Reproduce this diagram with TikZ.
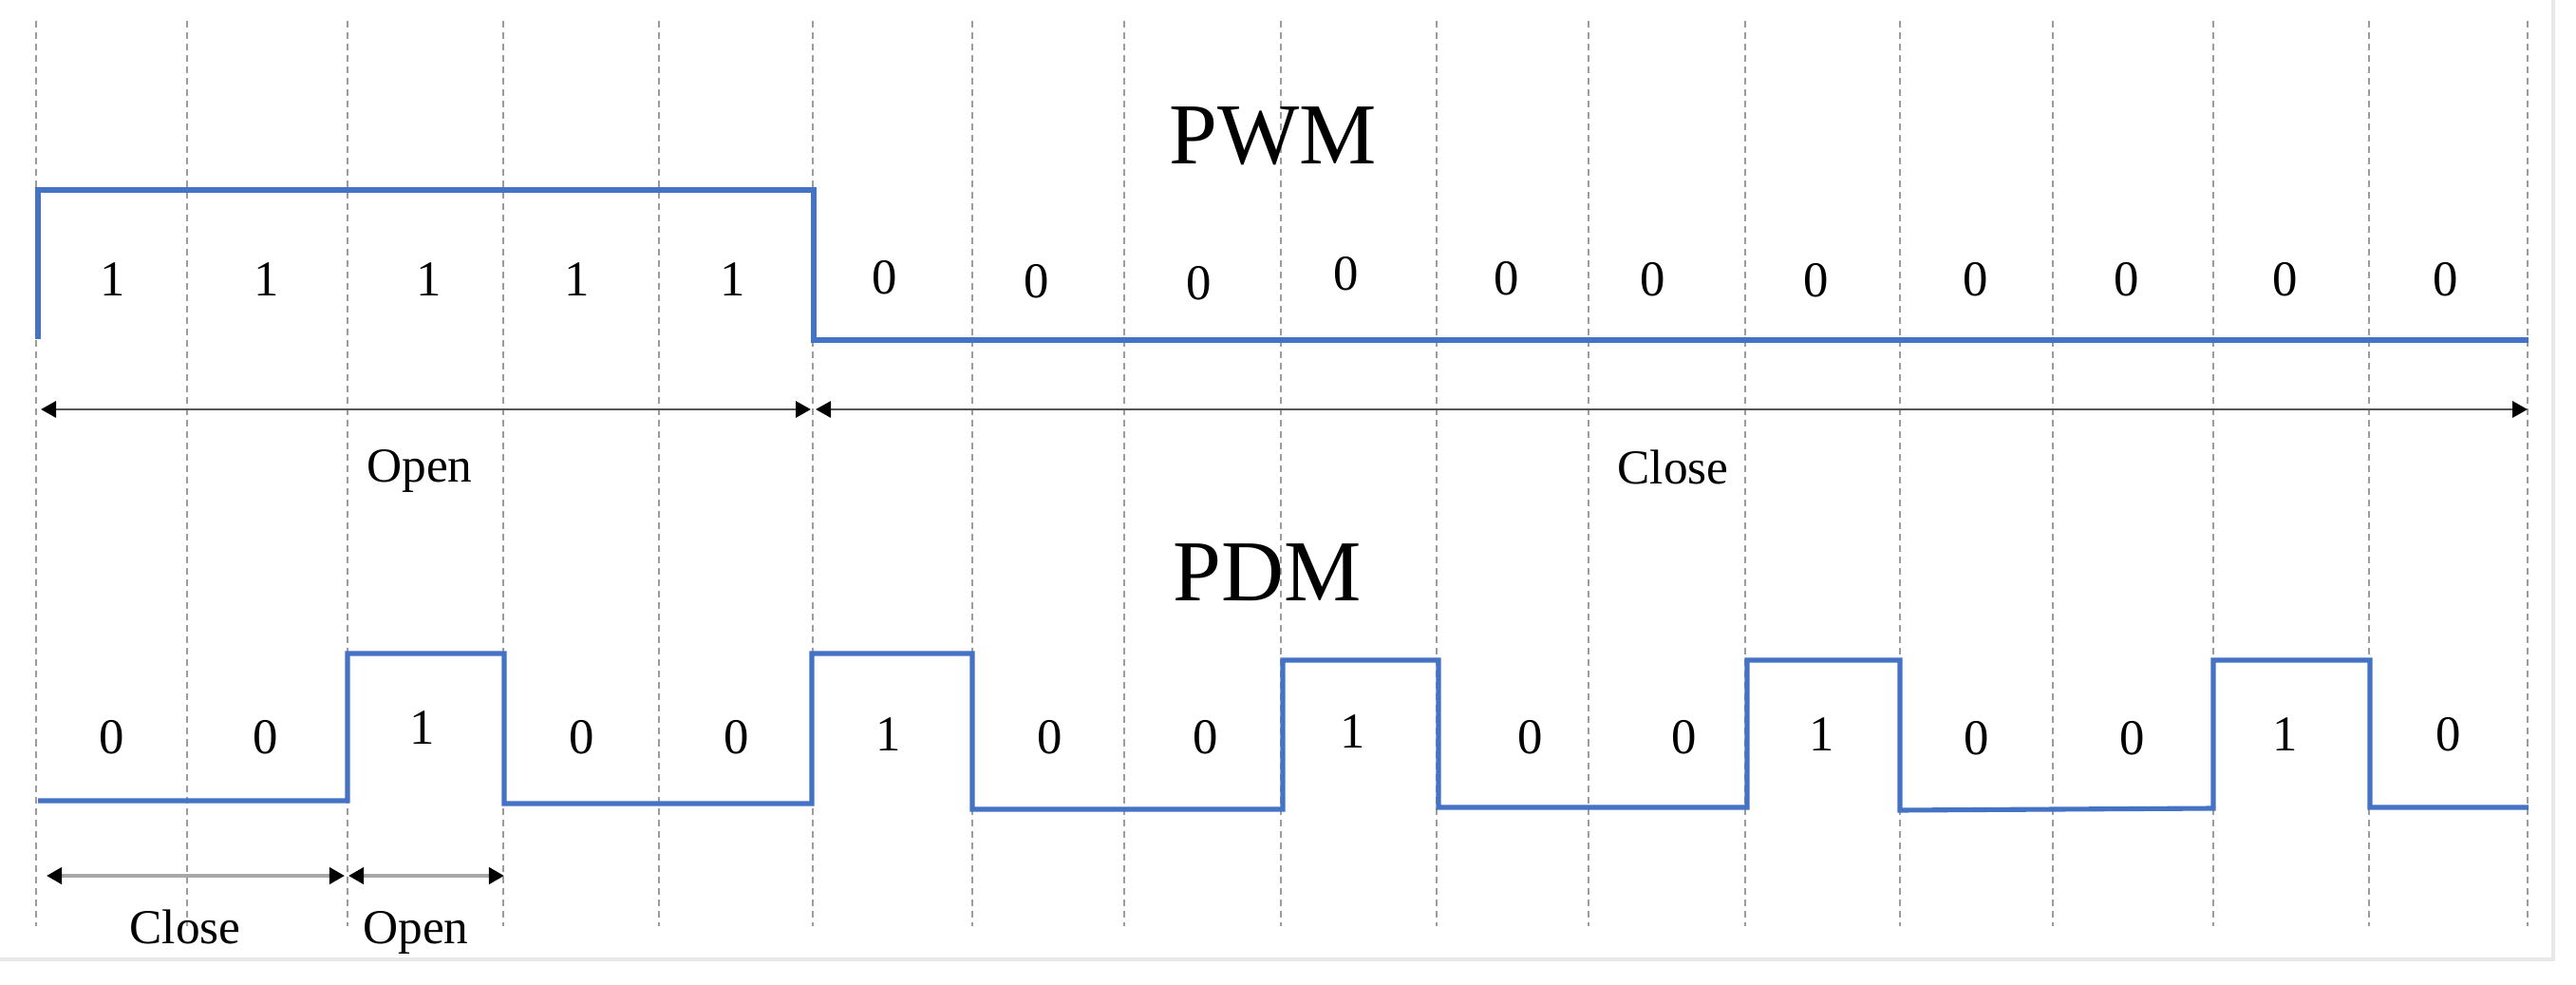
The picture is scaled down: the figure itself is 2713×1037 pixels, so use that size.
\documentclass[tikz,border=0pt]{standalone}
\usepackage{fontspec}
\setmainfont{Liberation Serif}
\usetikzlibrary{arrows.meta}
\definecolor{wave}{HTML}{4472C4}
\definecolor{gridgray}{HTML}{9C9C9C}
\definecolor{arrowdark}{HTML}{555555}
\definecolor{arrowlight}{HTML}{A8A8A8}
\definecolor{framegray}{HTML}{E8E8E8}
\begin{document}
\begin{tikzpicture}[x=0.01cm,y=-0.01cm,
  gridline/.style={draw=gridgray, line width=0.55pt, dash pattern=on 0.07cm off 0.05cm},
  signal/.style={draw=wave, line width=1.45pt, line join=miter},
  tipstyle/.style={{Triangle[length=0.16cm,width=0.17cm,color=black]}-{Triangle[length=0.16cm,width=0.17cm,color=black]}},
  spantop/.style={draw=arrowdark, line width=0.85pt, tipstyle},
  spanbot/.style={draw=arrowlight, line width=1.1pt, tipstyle},
  bit/.style={inner sep=0pt, font=\fontsize{15}{18}\selectfont},
  lbl/.style={inner sep=0pt, anchor=base, font=\fontsize{14.6}{18}\selectfont},
  ttl/.style={inner sep=0pt, anchor=base, font=\fontsize{26}{30}\selectfont}]
\useasboundingbox (0,0) rectangle (2713,1037);
\fill[white] (0,0) rectangle (2713,1037);
% faint frame of the screenshot
\coordinate (frTR) at (2689,0);
\coordinate (frBR) at (2689,1010);
\coordinate (frBL) at (0,1010);
\draw[framegray, line width=1.2pt] (frTR) -- (frBR) -- (frBL);
% grid
\foreach \x [count=\i] in {38,197,366,530,694,856,1024,1184,1349,1513,1673,1838,2001,2162,2331,2495,2662}{
  \coordinate (gt\i) at (\x,22);
  \coordinate (gb\i) at (\x,975);
  \draw[gridline] (gt\i) -- (gb\i);
}
% PWM waveform
\coordinate (w0) at (40,357);
\coordinate (w1) at (40,200);
\coordinate (w2) at (857,200);
\coordinate (w3) at (857,358);
\coordinate (w4) at (2663,358);
\draw[signal] (w0) -- (w1) -- (w2) -- (w3) -- (w4);
% PDM waveform
\coordinate (d0) at (40,843);
\coordinate (d1) at (366,843);
\coordinate (d2) at (366,688);
\coordinate (d3) at (531,688);
\coordinate (d4) at (531,846);
\coordinate (d5) at (855,846);
\coordinate (d6) at (855,688);
\coordinate (d7) at (1024,688);
\coordinate (d8) at (1024,852);
\coordinate (d9) at (1351,852);
\coordinate (d10) at (1351,695);
\coordinate (d11) at (1515,695);
\coordinate (d12) at (1515,850);
\coordinate (d13) at (1840,850);
\coordinate (d14) at (1840,695);
\coordinate (d15) at (2001,695);
\coordinate (d16) at (2001,853);
\coordinate (d17) at (2331,851);
\coordinate (d18) at (2331,695);
\coordinate (d19) at (2496,695);
\coordinate (d20) at (2496,850);
\coordinate (d21) at (2663,850);
\draw[signal] (d0) -- (d1) -- (d2) -- (d3) -- (d4) -- (d5) -- (d6) -- (d7) -- (d8) -- (d9) -- (d10) -- (d11) -- (d12) -- (d13) -- (d14) -- (d15) -- (d16) -- (d17) -- (d18) -- (d19) -- (d20) -- (d21);
% titles
\node[ttl] (pwmtitle) at (1341,173) {PWM};
\node[ttl] (pdmtitle) at (1335,633) {PDM};
% PWM bits
\foreach \x/\y/\v [count=\i] in {119/294/1,281/294/1,452/294/1,608/294/1,772/294/1,932/292/0,1092/296/0,1263/298/0,1418/288/0,1587/293/0,1741/294/0,1913/295/0,2081/294/0,2240/294/0,2407/294/0,2576/294/0}{
  \node[bit] (pwm\i) at (\x,\y) {\v};
}
% PDM bits
\foreach \x/\y/\v [count=\i] in {118/776/0,280/776/0,445/766/1,613/776/0,776/776/0,936/773/1,1106/776/0,1270/776/0,1425/770/1,1612/776/0,1774/776/0,1919/773/1,2082/777/0,2246/777/0,2407/773/1,2579/773/0}{
  \node[bit] (pdm\i) at (\x,\y) {\v};
}
% PWM spans
\coordinate (ta0) at (43,431);
\coordinate (ta1) at (854,431);
\coordinate (ta2) at (859,431);
\coordinate (ta3) at (2662,431);
\draw[spantop] (ta0) -- (ta1);
\draw[spantop] (ta2) -- (ta3);
\node[lbl] (openA) at (442,508) {Open};
\node[lbl] (closeA) at (1762,510) {Close};
% PDM spans
\coordinate (ba0) at (49,922);
\coordinate (ba1) at (363,922);
\coordinate (ba2) at (367,922);
\coordinate (ba3) at (531,922);
\draw[spanbot] (ba0) -- (ba1);
\draw[spanbot] (ba2) -- (ba3);
\node[lbl] (closeB) at (195,993) {Close};
\node[lbl] (openB) at (438,993) {Open};
\end{tikzpicture}
\end{document}
